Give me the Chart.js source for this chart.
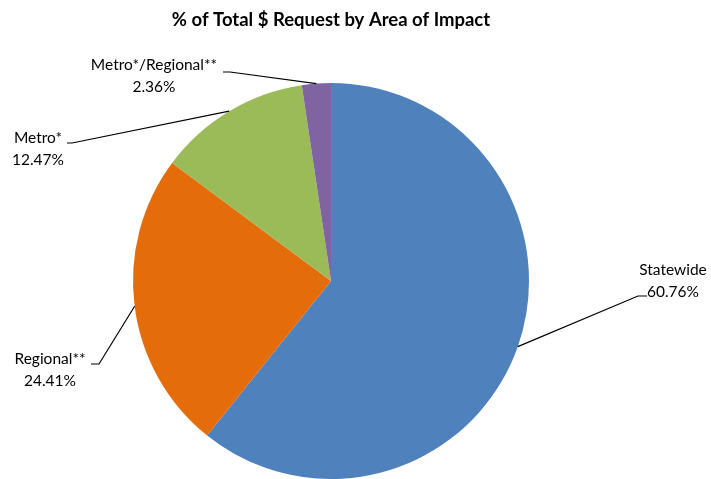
<!DOCTYPE html>
<html>
<head>
<meta charset="utf-8">
<script src="https://cdn.jsdelivr.net/npm/chart.js@4"></script>
<style>
  html, body { margin: 0; padding: 0; background: #fff; overflow: hidden; }
  #chart { display: block; }
</style>
</head>
<body>
<canvas id="chart" width="711" height="479"></canvas>
<script>
const chartTitle = '% of Total $ Request by Area of Impact';
const areas = ['Statewide', 'Regional**', 'Metro*', 'Metro*/Regional**'];
const shares = [60.76, 24.41, 12.47, 2.36];
const sliceColors = ['#4F81BD', '#E46C0A', '#9BBB59', '#8064A2'];

// where each label sits: elbow of leader line, and text centre
const labelLayout = [
  { ex: 638, ey: 296, hx: 647, tx: 673, ty: 270 },
  { ex: 99, ey: 364, hx: 91, tx: 50, ty: 359 },
  { ex: 72, ey: 143, hx: 67, tx: 38, ty: 138 },
  { ex: 230, ey: 72, hx: 223, tx: 154, ty: 65 }
];

const labelFont = '15.5px Lato, sans-serif';

const calloutPlugin = {
  id: 'callouts',
  afterDraw(chart) {
    const c = chart.ctx;
    const arcs = chart.getDatasetMeta(0).data;
    c.save();

    c.fillStyle = '#000';
    c.font = 'bold 18.5px Lato, sans-serif';
    c.textAlign = 'center';
    c.textBaseline = 'middle';
    c.fillText(chartTitle, 331, 20);

    arcs.forEach((arc, i) => {
      const p = arc.getProps(['x', 'y', 'startAngle', 'endAngle', 'outerRadius'], true);
      const mid = (p.startAngle + p.endAngle) / 2;
      const sx = p.x + Math.cos(mid) * p.outerRadius;
      const sy = p.y + Math.sin(mid) * p.outerRadius;
      const L = labelLayout[i];

      c.strokeStyle = '#000';
      c.lineWidth = 1.2;
      c.beginPath();
      c.moveTo(sx, sy);
      c.lineTo(L.ex, L.ey);
      c.lineTo(L.hx, L.ey);
      c.stroke();

      c.fillStyle = '#000';
      c.font = labelFont;
      c.fillText(areas[i], L.tx, L.ty);
      c.fillText(shares[i].toFixed(2) + '%', L.tx, L.ty + 22);
    });
    c.restore();
  }
};

new Chart(document.getElementById('chart').getContext('2d'), {
  type: 'pie',
  data: {
    labels: areas,
    datasets: [{
      data: shares,
      backgroundColor: sliceColors,
      borderWidth: 0
    }]
  },
  options: {
    responsive: false,
    animation: false,
    layout: { padding: { left: 132, right: 181, top: 83, bottom: 0 } },
    plugins: {
      legend: { display: false },
      title: { display: false },
      tooltip: { enabled: false }
    }
  },
  plugins: [calloutPlugin]
});
</script>
</body>
</html>
